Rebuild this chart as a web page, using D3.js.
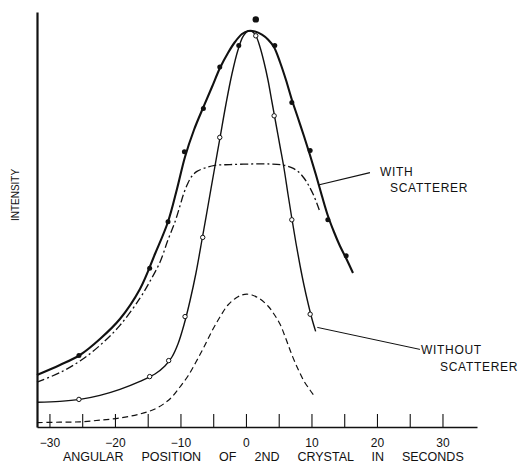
<!DOCTYPE html>
<html><head><meta charset="utf-8">
<script src="https://cdn.jsdelivr.net/npm/d3@7"></script>
<style>body{margin:0;background:#fff}svg{display:block}text{font-family:"Liberation Sans",Arial,sans-serif;fill:#111}</style>
</head><body>
<svg id="c" width="523" height="466"></svg>
<script>
// Angular position (seconds) and intensity (arbitrary units)
const withCurveX   = [-31.91,-28.40,-25.34,-22.29,-19.24,-16.18,-13.89,-11.91,-10.53,-9.31,-7.94,-6.56,-5.19,-3.97,-2.75,-1.68,-0.61,0.35,1.37,2.44,3.36,4.27,5.19,6.11,7.02,7.94,8.85,9.77,10.69,11.60,12.52,13.44,14.35,15.27,16.34];
const withCurveY   = [13.0,15.5,18.0,22.0,27.0,34.5,43.25,51.25,59.5,67.5,74.25,79.75,85.0,89.75,93.5,96.25,98.25,99.0,98.9,98.1,96.9,95.0,91.25,86.75,81.75,77.25,72.75,68.0,63.0,57.75,52.75,48.75,45.25,42.25,38.5];
const withPtsX     = [1.5,-4.0,-6.5,-9.4,-11.9,-14.7,-25.5,4.4,7.0,9.8,12.5,15.3,-1.1];
const withPtsY     = [101.9,90.0,79.6,68.8,51.3,39.7,17.9,95.4,81.1,69.1,51.8,42.8,95.4];
const withoutCurveX = [-31.91,-28.40,-25.34,-22.29,-19.24,-16.18,-13.89,-12.37,-11.30,-10.38,-9.47,-8.55,-7.63,-6.72,-5.80,-4.89,-3.97,-3.05,-2.14,-1.22,-0.46,0.31,0.92,1.53,2.14,2.75,3.36,3.97,4.58,5.19,5.80,6.41,7.02,7.63,8.24,8.85,9.47,10.08,10.64];
const withoutCurveY = [6.2,6.4,6.9,7.9,9.4,11.4,13.25,15.25,17.5,20.75,25.5,31.5,38.5,46.75,55.25,63.75,72.25,80.75,88.25,94.25,97.6,99.0,98.9,97.75,95.0,91.25,86.75,81.25,75.75,70.25,64.75,58.25,52.0,46.0,40.5,35.5,31.0,27.0,23.9];
const withoutPtsX  = [1.5,-4.0,-6.6,-9.3,-11.8,-14.7,-25.5,4.3,7.0,9.8];
const withoutPtsY  = [97.8,72.4,47.4,27.6,16.6,12.6,6.9,77.8,51.8,28.2];
const withCalcX    = [-31.91,-28.40,-25.34,-22.29,-19.24,-16.18,-14.66,-13.13,-11.91,-10.84,-10.08,-9.47,-8.85,-8.24,-7.48,-6.26,-4.73,-2.44,0.61,3.66,5.65,6.87,7.94,8.85,9.62,10.38,11.19];
const withCalcY    = [11.2,13.6,16.5,20.4,25.4,32.2,36.4,41.2,46.75,51.25,55.25,58.5,61.0,62.75,63.9,64.75,65.4,65.6,65.75,65.75,65.5,64.9,63.9,62.25,60.25,57.75,54.25];
const withoutCalcX = [-31.91,-28.40,-25.34,-22.29,-19.24,-16.18,-13.89,-12.37,-11.30,-10.08,-8.85,-7.63,-6.41,-5.19,-3.97,-2.75,-1.53,-0.61,0.15,0.92,2.14,3.36,4.27,5.19,6.11,7.02,7.94,8.85,9.77,10.53];
const withoutCalcY = [1.1,1.2,1.3,1.7,2.25,3.25,4.5,6.0,7.5,10.0,12.75,16.25,20.0,24.0,27.5,30.5,32.25,33.0,33.2,33.0,32.0,30.25,28.25,25.75,22.0,18.0,14.5,11.5,9.25,7.5];
const xTicks = [-30,-25,-20,-15,-10,-5,0,5,10,15,20,25,30];
const xTickLabels = ["−30","","−20","","−10","","0","","10","","20","","30"];
const xTitle = "ANGULAR POSITION OF 2ND CRYSTAL IN SECONDS";
const yTitle = "INTENSITY";

const svg = d3.select("#c");
const x = d3.scaleLinear().domain([-31.9, 35.27]).range([37, 477]);
const y = d3.scaleLinear().domain([0, 103.75]).range([427, 12]);
const ink = "#111";

// axes
const xa = svg.append("g").attr("transform","translate(0,427)")
  .call(d3.axisBottom(x).tickValues(xTicks).tickSizeInner(-13).tickSizeOuter(0).tickPadding(11)
    .tickFormat((d,i)=>xTickLabels[i]));
xa.select(".domain").attr("stroke",ink).attr("stroke-width",1.6);
xa.selectAll(".tick line").attr("stroke",ink).attr("stroke-width",1.1);
xa.selectAll(".tick text").attr("font-size",12).attr("fill",ink).style("font-family",'"Liberation Sans",Arial,sans-serif');
const ya = svg.append("g").attr("transform","translate(37,0)")
  .call(d3.axisLeft(y).tickValues([]).tickSizeOuter(0));
ya.select(".domain").attr("stroke",ink).attr("stroke-width",2.2);

svg.append("text").attr("x",63).attr("y",461).attr("text-anchor","start")
  .attr("font-size",12.5).attr("word-spacing",14.5).text(xTitle);
svg.append("text").attr("transform","translate(19,195) rotate(-90)").attr("text-anchor","middle")
  .attr("font-size",10).text(yTitle);

const line = d3.line().x(d=>x(d[0])).y(d=>y(d[1])).curve(d3.curveCatmullRom.alpha(0.5));
const zip = (a,b)=>a.map((v,i)=>[v,b[i]]);

svg.append("path").attr("d",line(zip(withoutCalcX,withoutCalcY))).attr("fill","none")
  .attr("stroke",ink).attr("stroke-width",1.2).attr("stroke-dasharray","6,3.5");
svg.append("path").attr("d",line(zip(withCalcX,withCalcY))).attr("fill","none")
  .attr("stroke",ink).attr("stroke-width",1.3).attr("stroke-dasharray","8,3,2,3");
svg.append("path").attr("d",line(zip(withoutCurveX,withoutCurveY))).attr("fill","none")
  .attr("stroke",ink).attr("stroke-width",1.4);
svg.append("path").attr("d",line(zip(withCurveX,withCurveY))).attr("fill","none")
  .attr("stroke",ink).attr("stroke-width",2.1);

svg.selectAll(".wp").data(zip(withPtsX,withPtsY)).enter().append("circle")
  .attr("cx",d=>x(d[0])).attr("cy",d=>y(d[1])).attr("r",(d,i)=>i===0?3.2:2.5).attr("fill",ink);
svg.selectAll(".op").data(zip(withoutPtsX,withoutPtsY)).enter().append("circle")
  .attr("cx",d=>x(d[0])).attr("cy",d=>y(d[1])).attr("r",2.2).attr("fill","#fff")
  .attr("stroke",ink).attr("stroke-width",1);

// annotations
svg.append("line").attr("x1",x(11.04)).attr("y1",y(60.5)).attr("x2",x(18.93)).attr("y2",y(63.6))
  .attr("stroke",ink).attr("stroke-width",1.2);
svg.append("line").attr("x1",x(10.89)).attr("y1",y(24.9)).attr("x2",x(26.56)).attr("y2",y(19.4))
  .attr("stroke",ink).attr("stroke-width",1);
const lab = (t,px,py)=>svg.append("text").attr("x",px).attr("y",py).attr("font-size",12)
  .attr("letter-spacing",0.7).text(t);
lab("WITH",380,176); lab("SCATTERER",390,192);
lab("WITHOUT",421,354); lab("SCATTERER",440,371);
</script>
</body></html>
